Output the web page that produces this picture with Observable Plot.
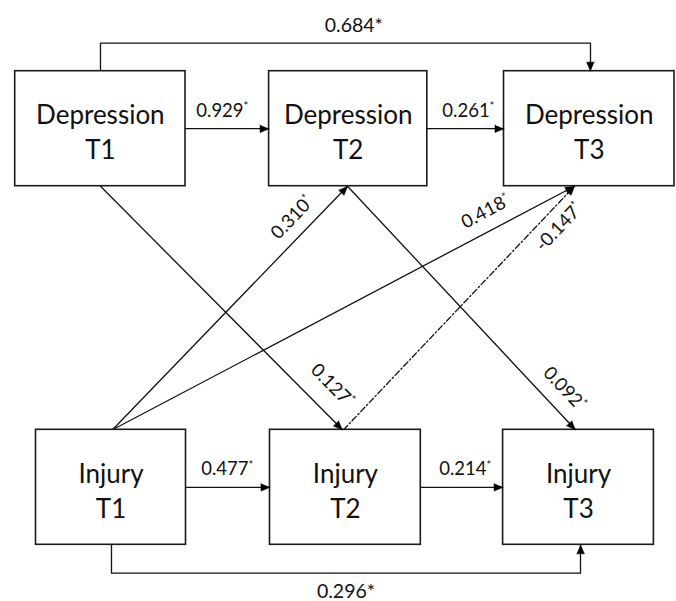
<!DOCTYPE html>
<html>
<head>
<meta charset="utf-8">
<script src="https://cdn.jsdelivr.net/npm/d3@7"></script>
<script src="https://cdn.jsdelivr.net/npm/@observablehq/plot@0.6"></script>
<style>
  html, body { margin: 0; padding: 0; background: #fff; }
  #chart svg { display: block; }
</style>
</head>
<body>
<div id="chart"></div>
<script>
// ---------- DATA ----------
const nodeNames  = ["Depression T1", "Depression T2", "Depression T3", "Injury T1", "Injury T2", "Injury T3"];
const nodeLabels = ["Depression\nT1", "Depression\nT2", "Depression\nT3", "Injury\nT1", "Injury\nT2", "Injury\nT3"];

const pathFrom     = ["Depression T1", "Depression T2", "Depression T1", "Injury T1", "Injury T2", "Injury T1", "Injury T1",     "Injury T1",     "Depression T1", "Depression T2", "Injury T2"];
const pathTo       = ["Depression T2", "Depression T3", "Depression T3", "Injury T2", "Injury T3", "Injury T3", "Depression T2", "Depression T3", "Injury T2",     "Injury T3",     "Depression T3"];
const coefficients = [0.929, 0.261, 0.684, 0.477, 0.214, 0.296, 0.310, 0.418, 0.127, 0.092, -0.147];
const significance = ["*", "*", "*", "*", "*", "*", "*", "*", "*", "*", "*"];
const pathKind     = ["lag1", "lag1", "lag2", "lag1", "lag1", "lag2", "cross", "cross", "cross", "cross", "cross"];

// ---------- LAYOUT (pixel units, identity scales) ----------
const W = 676, H = 601;
const FONT = "Lato, Carlito, Calibri, 'Open Sans', sans-serif";
const boxes = {
  "Depression T1": [14.7, 185, 70.7, 185.7],
  "Depression T2": [268.6, 426.8, 70.7, 185.7],
  "Depression T3": [503.5, 674, 70.7, 185.7],
  "Injury T1":     [35.5, 185.5, 429.3, 544.3],
  "Injury T2":     [269.5, 420.3, 429.3, 544.3],
  "Injury T3":     [502.6, 653.4, 429.3, 544.3]
};
// per path: anchors (sx, tx), lane for elbows, label placement (t along segment, perpendicular offset)
const routes = [
  {t: 0.44,  off: 17.6},                              // D1->D2
  {t: 0.535, off: 17.6},                              // D2->D3
  {sx: 100, tx: 590, lane: 42.7, t: 0.517, off: 17},  // D1->D3
  {t: 0.49,  off: 17.8},                              // I1->I2
  {t: 0.54,  off: 17.8},                              // I2->I3
  {sx: 111, tx: 580, lane: 572.7, t: 0.5, off: -19},  // I1->I3
  {sx: 112, tx: 347, t: 0.82,  off: 18},              // I1->D2
  {sx: 112, tx: 574, t: 0.827, off: 19},              // I1->D3
  {sx: 100, tx: 342, t: 0.887, off: 24},              // D1->I2
  {sx: 347, tx: 575, t: 0.887, off: 20},              // D2->I3
  {sx: 343, tx: 574, t: 0.88,  off: -17, dash: true}  // I2->D3
];

const isTop = n => n.startsWith("Depression");
const fmt = c => (c < 0 ? "-" : "") + Math.abs(c).toFixed(3);

// build point lists
const linePts = [], heads = [], labels = [];
pathFrom.forEach((from, i) => {
  const to = pathTo[i], r = routes[i], bf = boxes[from], bt = boxes[to];
  let pts;
  if (pathKind[i] === "lag1") {
    const y = (bf[2] + bf[3]) / 2;
    pts = [[bf[1], y], [bt[0], y]];
  } else if (pathKind[i] === "lag2") {
    const yf = isTop(from) ? bf[2] : bf[3];
    const yt = isTop(to) ? bt[2] : bt[3];
    pts = [[r.sx, yf], [r.sx, r.lane], [r.tx, r.lane], [r.tx, yt]];
  } else {
    const yf = isTop(from) ? bf[3] : bf[2];
    const yt = isTop(to) ? bt[3] : bt[2];
    pts = [[r.sx, yf], [r.tx, yt]];
  }
  pts.forEach(([x, y], k) => linePts.push({path: i, k, x, y, dash: !!r.dash}));
  // arrowhead
  const [x1, y1] = pts[pts.length - 2], [x2, y2] = pts[pts.length - 1];
  const L = Math.hypot(x2 - x1, y2 - y1), ux = (x2 - x1) / L, uy = (y2 - y1) / L;
  const hl = 9, hw = 3.8;
  const bx = x2 - ux * hl, by = y2 - uy * hl;
  heads.push({path: i, x: x2, y: y2});
  heads.push({path: i, x: bx - uy * hw, y: by + ux * hw});
  heads.push({path: i, x: bx + uy * hw, y: by - ux * hw});
  // label along the labelled segment
  let s0, s1;
  if (pathKind[i] === "lag2") { s0 = pts[1]; s1 = pts[2]; } else { s0 = pts[0]; s1 = pts[1]; }
  const sl = Math.hypot(s1[0] - s0[0], s1[1] - s0[1]);
  const vx = (s1[0] - s0[0]) / sl, vy = (s1[1] - s0[1]) / sl;
  const px = s0[0] + vx * sl * r.t + vy * r.off;
  const py = s0[1] + vy * sl * r.t - vx * r.off;
  const ang = pathKind[i] === "cross" ? Math.atan2(vy, vx) * 180 / Math.PI : 0;
  labels.push({
    x: px, y: py, rotate: ang,
    text: fmt(coefficients[i]) + significance[i],
    big: pathKind[i] === "lag2"
  });
});

const nodes = nodeNames.map((n, i) => {
  const b = boxes[n];
  return {name: n, label: nodeLabels[i], x1: b[0], x2: b[1], y1: b[2], y2: b[3], cx: (b[0] + b[1]) / 2, cy: (b[2] + b[3]) / 2};
});

// render superscript asterisk
function supStar(index, scales, values, dimensions, context, next) {
  const g = next(index, scales, values, dimensions, context);
  d3.select(g).selectAll("text").each(function() {
    const t = this.textContent;
    if (t.endsWith("*")) {
      this.textContent = t.slice(0, -1);
      d3.select(this).append("tspan").attr("font-size", "0.6em").attr("dy", "-0.6em").text("*");
    }
  });
  return g;
}

const plot = Plot.plot({
  width: W, height: H,
  margin: 0,
  x: {domain: [0, W], range: [0, W], axis: null},
  y: {domain: [0, H], range: [0, H], axis: null},
  style: {fontFamily: FONT, background: "#fff"},
  marks: [
    Plot.line(linePts.filter(d => !d.dash), {x: "x", y: "y", z: "path", stroke: "#111", strokeWidth: 1.3, curve: "linear"}),
    Plot.line(linePts.filter(d => d.dash), {x: "x", y: "y", z: "path", stroke: "#111", strokeWidth: 1.3, strokeDasharray: "6,2.5,1.5,2.5"}),
    Plot.rect(nodes, {x1: "x1", x2: "x2", y1: "y1", y2: "y2", fill: "white", stroke: "#1a1a1a", strokeWidth: 1.6}),
    Plot.line(heads, {x: "x", y: "y", z: "path", fill: "#000", stroke: "#000", strokeWidth: 0.6}),
    Plot.text(nodes, {x: "cx", y: "cy", text: "label", fontSize: 26, lineHeight: 1.33, dy: 2, fill: "#111", fontFamily: FONT}),
    Plot.text(labels.filter(d => !d.big), {x: "x", y: "y", text: "text", rotate: "rotate", fontSize: 18.5, fill: "#111", fontFamily: FONT, render: supStar}),
    Plot.text(labels.filter(d => d.big), {x: "x", y: "y", text: "text", fontSize: 19.5, fill: "#111", fontFamily: FONT})
  ]
});
document.getElementById("chart").append(plot);
</script>
</body>
</html>
